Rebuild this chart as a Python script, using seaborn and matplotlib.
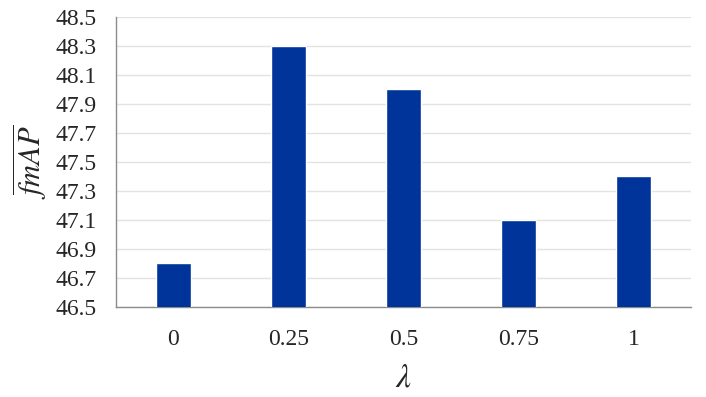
import pandas as pd
import matplotlib
matplotlib.use('Agg')
import matplotlib.pyplot as plt
import seaborn as sns

# Data
lambdas = ['0', '0.25', '0.5', '0.75', '1']
fmap = [46.8, 48.3, 48.0, 47.1, 47.4]
yticks = [46.5, 46.7, 46.9, 47.1, 47.3, 47.5, 47.7, 47.9, 48.1, 48.3, 48.5]

sns.set_style('white')
plt.rcParams['font.family'] = ['Liberation Serif', 'DejaVu Serif']
plt.rcParams['mathtext.fontset'] = 'stix'

df = pd.DataFrame({'lambda': lambdas, 'fmAP': fmap})

fig = plt.figure(figsize=(7.06, 3.97), dpi=100)
ax = fig.add_axes([0.1643, 0.2267, 0.8145, 0.7305])

sns.barplot(data=df, x='lambda', y='fmAP', order=lambdas, color='#00349A',
            saturation=1, width=0.31, ax=ax, zorder=3)

ax.set_ylim(46.5, 48.5)
ax.set_yticks(yticks)
ax.set_yticklabels([f'{t:.1f}' for t in yticks], fontsize=17)
ax.tick_params(axis='x', labelsize=17, length=0, pad=16)
ax.tick_params(axis='y', length=0, pad=14)
ax.yaxis.grid(True, color='#e3e3e3', linewidth=1, zorder=0)
ax.set_axisbelow(True)

for s in ['top', 'right']:
    ax.spines[s].set_visible(False)
for s in ['left', 'bottom']:
    ax.spines[s].set_color('#8c8c8c')
    ax.spines[s].set_linewidth(1)

ax.set_xlabel(r'$\lambda$', fontsize=24, labelpad=9)
ax.set_ylabel(r'$\overline{fmAP}$', fontsize=22, labelpad=4)

fig.savefig('out.png', dpi=100)
plt.close(fig)
